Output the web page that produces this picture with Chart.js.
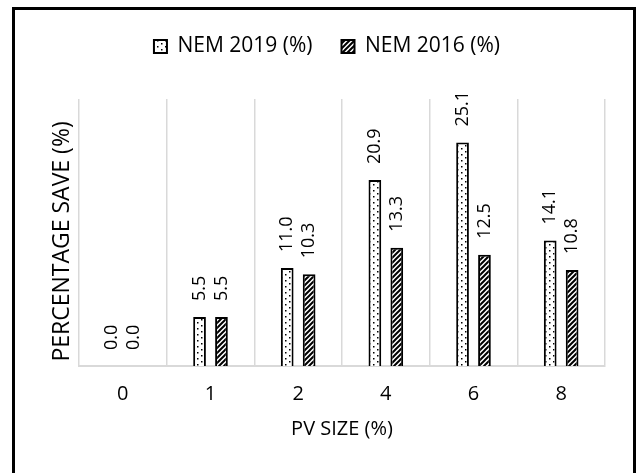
<!DOCTYPE html>
<html>
<head>
<meta charset="utf-8">
<script src="https://cdn.jsdelivr.net/npm/chart.js@4.4.0/dist/chart.umd.min.js"></script>
<style>
  html, body { margin: 0; padding: 0; background: #fff; overflow: hidden; }
  #frame { position: absolute; left: 12px; top: 7px; width: 624px; height: 500px; border: 3px solid #000; box-sizing: border-box; }
  #chart { position: absolute; left: 0; top: 0; }
</style>
</head>
<body>
<div id="frame"></div>
<canvas id="chart" width="637" height="473"></canvas>
<script>
// data
const pvSizes = ['0', '1', '2', '4', '6', '8'];
const nem2019 = [0.0, 5.5, 11.0, 20.9, 25.1, 14.1];
const nem2016 = [0.0, 5.5, 10.3, 13.3, 12.5, 10.8];
const seriesNames = ['NEM 2019 (%)', 'NEM 2016 (%)'];

const ctx = document.getElementById('chart').getContext('2d');
Chart.defaults.font.family = '"Open Sans", sans-serif';
Chart.defaults.color = '#000';

// white with small black dots
function dotPattern() {
    const c = document.createElement('canvas');
    c.width = 8; c.height = 6;
    const g = c.getContext('2d');
    g.fillStyle = '#fff';
    g.fillRect(0, 0, 8, 6);
    g.fillStyle = '#000';
    g.fillRect(1, 1, 1.5, 1.5);
    g.fillRect(5, 4, 1.5, 1.5);
    return ctx.createPattern(c, 'repeat');
}

// black / white diagonal stripes
function stripePattern() {
    const c = document.createElement('canvas');
    c.width = 5; c.height = 5;
    const g = c.getContext('2d');
    g.fillStyle = '#fff';
    g.fillRect(0, 0, 5, 5);
    g.strokeStyle = '#000';
    g.lineWidth = 2;
    g.beginPath();
    g.moveTo(-1, 6); g.lineTo(6, -1);
    g.moveTo(-1, 1); g.lineTo(1, -1);
    g.moveTo(4, 6); g.lineTo(6, 4);
    g.stroke();
    return ctx.createPattern(c, 'repeat');
}

// values written upright above each bar
const barLabels = {
    id: 'barLabels',
    afterDatasetsDraw(chart) {
        const c = chart.ctx;
        c.save();
        c.font = '18px "Open Sans"';
        c.fillStyle = '#000';
        c.textAlign = 'left';
        c.textBaseline = 'middle';
        chart.data.datasets.forEach((ds, i) => {
            chart.getDatasetMeta(i).data.forEach((bar, j) => {
                c.save();
                c.translate(bar.x, bar.y - 16);
                c.rotate(-Math.PI / 2);
                c.fillText(ds.data[j].toFixed(1), 0, 0);
                c.restore();
            });
        });
        c.restore();
    }
};

// extra room under the legend
const legendGap = {
    id: 'legendGap',
    beforeInit(chart) {
        if (!chart.legend) return;
        const fit = chart.legend.fit;
        chart.legend.fit = function () {
            fit.bind(chart.legend)();
            this.height += 32;
        };
    }
};

new Chart(ctx, {
    type: 'bar',
    data: {
        labels: pvSizes,
        datasets: [
            {
                label: seriesNames[0],
                data: nem2019,
                backgroundColor: dotPattern(),
                borderColor: '#000',
                borderWidth: 2
            },
            {
                label: seriesNames[1],
                data: nem2016,
                backgroundColor: stripePattern(),
                borderColor: '#000',
                borderWidth: 2
            }
        ]
    },
    options: {
        responsive: false,
        animation: false,
        categoryPercentage: 0.5,
        barPercentage: 0.58,
        layout: { padding: { left: 49, right: 32, top: 7, bottom: 27 } },
        plugins: {
            tooltip: { enabled: false },
            legend: {
                position: 'top',
                labels: {
                    font: { size: 21 },
                    boxWidth: 13,
                    boxHeight: 13,
                    padding: 29,
                    color: '#000'
                }
            }
        },
        scales: {
            x: {
                grid: { color: '#d9d9d9', lineWidth: 1.5, drawTicks: false, offset: true },
                border: { color: '#d9d9d9', width: 2 },
                ticks: { font: { size: 20 }, padding: 16, color: '#000' },
                title: { display: true, text: 'PV SIZE (%)', font: { size: 20 }, padding: { top: 0, bottom: 5 }, color: '#000' },
                afterFit(scale) { scale.height = 80; }
            },
            y: {
                min: 0,
                max: 30,
                grid: { display: false },
                border: { display: false },
                ticks: { display: false },
                // trailing spaces push the title a little lower, as in the picture
                title: { display: true, text: 'PERCENTAGE SAVE (%)   ', font: { size: 23 }, padding: { top: 0, bottom: 0 }, color: '#000' },
                afterFit(scale) { scale.width = 30; }
            }
        }
    },
    plugins: [barLabels, legendGap]
});
</script>
</body>
</html>
